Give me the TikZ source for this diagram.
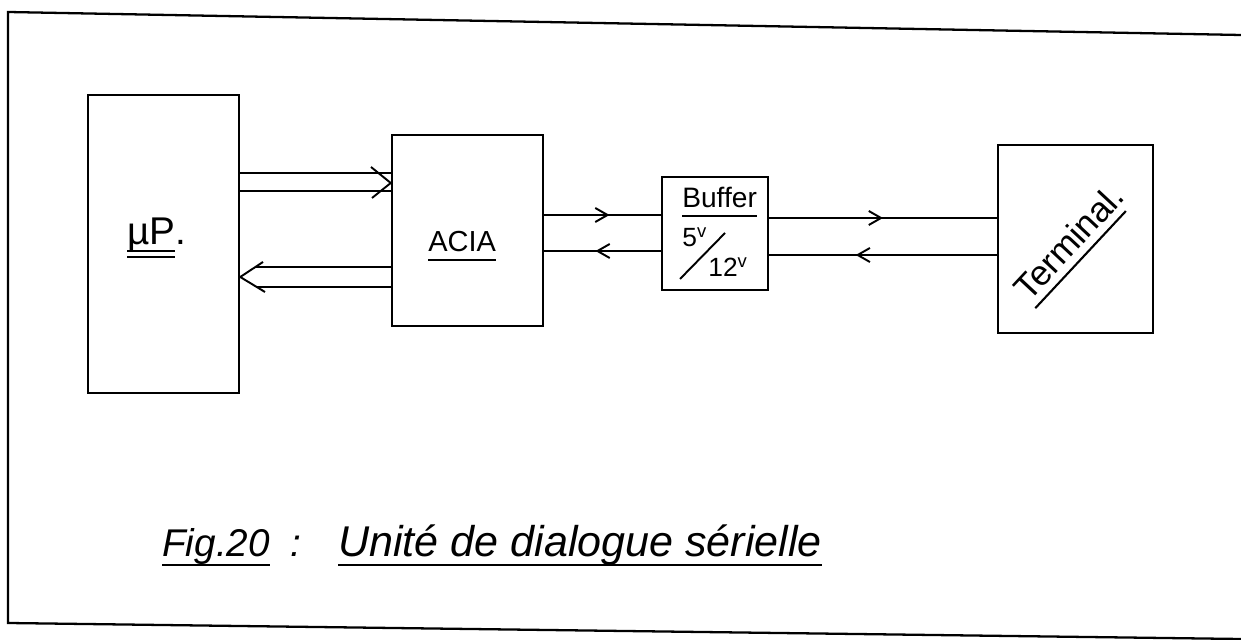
\documentclass[tikz,border=0pt]{standalone}
\usepackage{fontspec}
\setmainfont{Liberation Sans}
\usepackage{tikz}
\usetikzlibrary{arrows.meta, decorations.markings, calc}

% underline drawn below the baseline, descenders may cross it
\newcommand\ulin[1]{\setbox0\hbox{#1}\vtop{\copy0\kern-\dp0\kern4pt\hrule height 1.2pt}}
\newcommand\dulin[1]{\setbox0\hbox{#1}\vtop{\copy0\kern-\dp0\kern3pt\hrule height 1.1pt\kern2pt\hrule height 1.1pt}}

\begin{document}
\begin{tikzpicture}[
  block/.style={rectangle, draw=black, line width=1.4pt, inner sep=0pt},
  lbl/.style={inner sep=0pt, font=\fontsize{#1pt}{#1pt}\selectfont},
  wire/.style={line width=1.1pt},
  mid/.style={postaction={decorate}, decoration={markings,
      mark=at position #1 with {\arrow{Straight Barb[length=7pt, width=8pt, line width=1.1pt]}}}}
]
  \useasboundingbox (0,0) rectangle (24.82,-12.8);

  % frame of the sheet
  \draw[line width=1.3pt] (24.82,-0.70) -- (0.16,-0.24) -- (0.16,-12.46) -- (24.82,-12.78);

  % blocks
  \node[block, minimum width=3.02cm, minimum height=5.96cm] (up)   at (3.27,-4.88)  {};
  \node[block, minimum width=3.02cm, minimum height=3.82cm] (acia) at (9.35,-4.61)  {};
  \node[block, minimum width=2.12cm, minimum height=2.26cm] (buf)  at (14.30,-4.67) {};
  \node[block, minimum width=3.10cm, minimum height=3.76cm] (term) at (21.51,-4.78) {};

  % labels
  \node[lbl=22, anchor=base west] (uplbl) at (2.54,-4.90) {\dulin{µP}.};
  \node[lbl=16.5, anchor=base west] (acialbl) at (8.56,-5.04) {\ulin{ACIA}};
  \node[lbl=16, anchor=base west] (buflbl) at (13.64,-4.16) {\ulin{Buffer}};
  \node[lbl=15, anchor=base west] (v5)  at (13.64,-4.94) {5\textsuperscript{v}};
  \node[lbl=15, anchor=base west] (v12) at (14.16,-5.54) {12\textsuperscript{v}};
  \draw[wire] (13.60,-5.58) -- (14.50,-4.66);
  \node[lbl=20, rotate=47] (termlbl) at (21.44,-4.90) {\ulin{Terminal}.};

  % parallel bus uP -> ACIA
  \draw[wire] (up.east |- 0,-3.46) -- (acia.west |- 0,-3.46);
  \draw[wire] (up.east |- 0,-3.82) -- (acia.west |- 0,-3.82);
  \draw[wire] (7.42,-3.34) -- (acia.west |- 0,-3.66) -- (7.44,-3.96);

  % parallel bus ACIA -> uP
  \coordinate (tipa) at (5.11,-5.34);
  \coordinate (tipb) at (5.13,-5.74);
  \draw[wire] (acia.west |- 0,-5.34) -- (tipa);
  \draw[wire] (acia.west |- 0,-5.74) -- (tipb);
  \draw[wire] (5.26,-5.24) -- (up.east |- 0,-5.54) -- (5.30,-5.84);

  % serial lines
  \draw[wire, mid=0.56] (acia.east |- 0,-4.30) -- (buf.west |- 0,-4.30);
  \draw[wire, mid=0.56] (buf.west |- 0,-5.02) -- (acia.east |- 0,-5.02);
  \draw[wire, mid=0.50] (buf.east |- 0,-4.36) -- (term.west |- 0,-4.36);
  \draw[wire, mid=0.62] (term.west |- 0,-5.10) -- (buf.east |- 0,-5.10);

  % caption
  \node[lbl=22, anchor=base west] (fig)   at (3.24,-11.14) {\itshape\ulin{Fig.20}};
  \node[lbl=22, anchor=base west] (colon) at (5.80,-11.14) {\itshape :};
  \node[lbl=24.5, anchor=base west] (title) at (6.76,-11.14) {\itshape\ulin{Unité de dialogue sérielle}};
\end{tikzpicture}
\end{document}
